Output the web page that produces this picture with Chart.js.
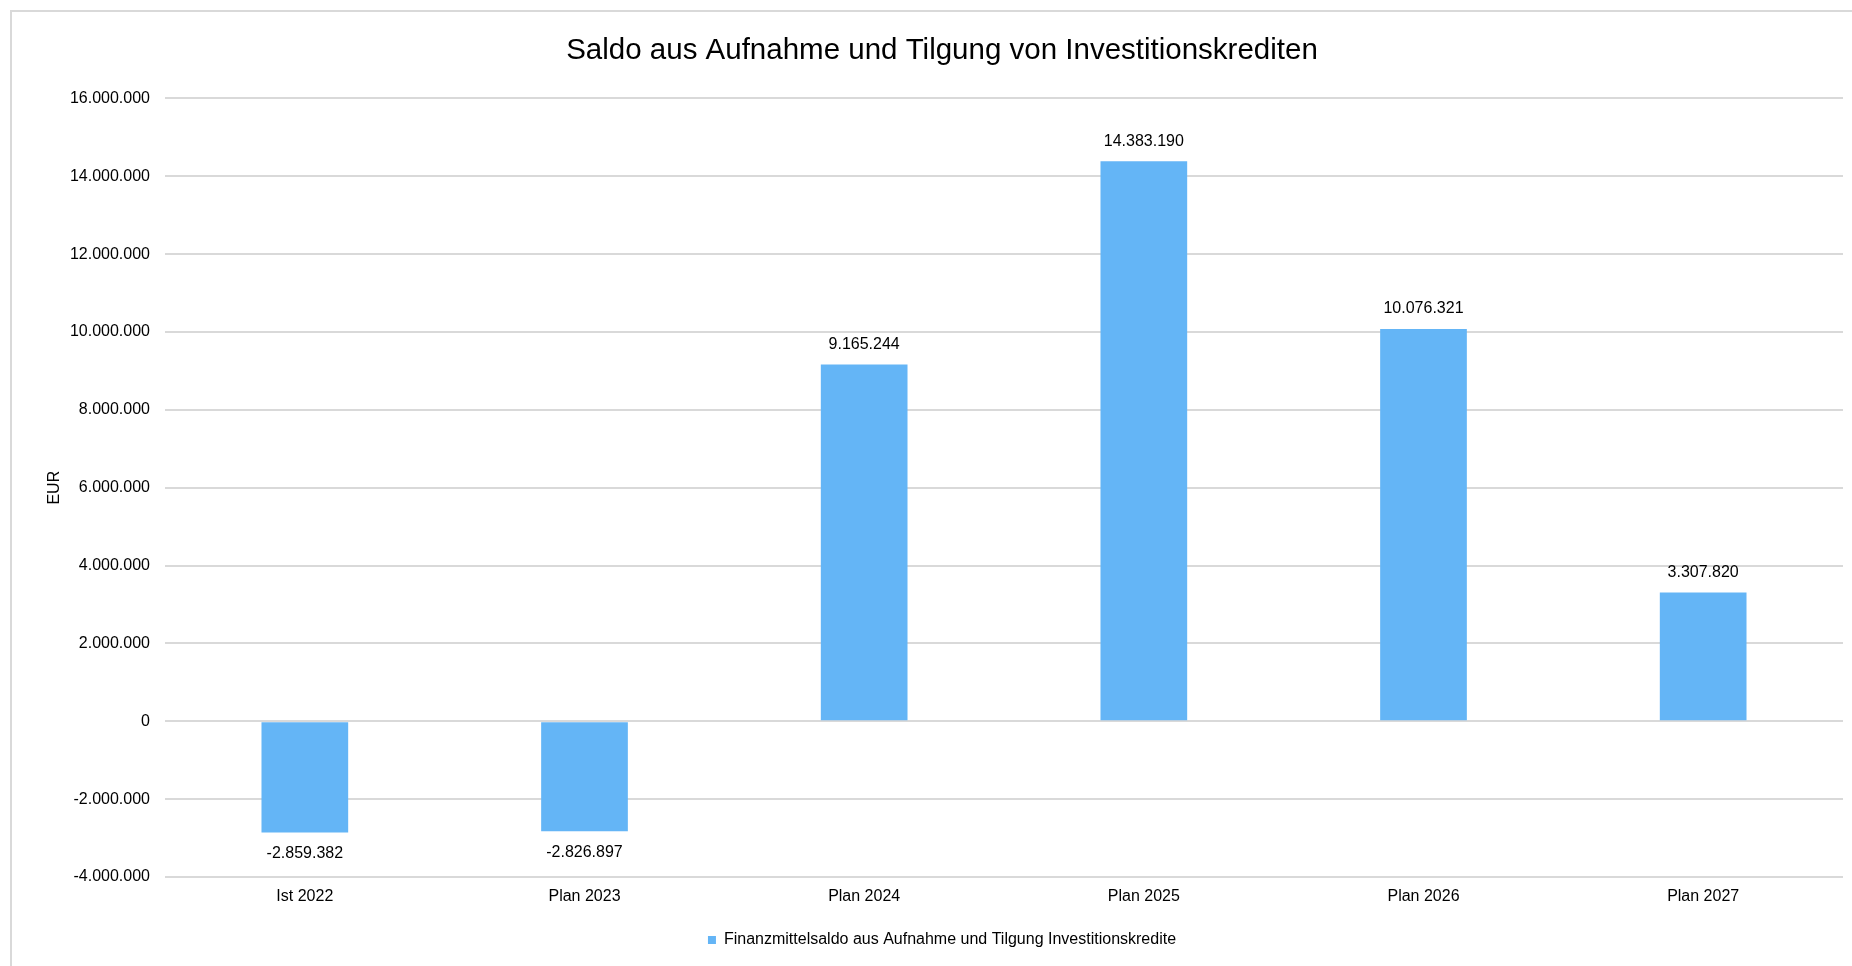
<!DOCTYPE html>
<html lang="de">
<head>
<meta charset="utf-8">
<title>Saldo aus Aufnahme und Tilgung von Investitionskrediten</title>
<script src="https://cdn.jsdelivr.net/npm/chart.js@4/dist/chart.umd.min.js"></script>
<style>
    html, body { margin: 0; padding: 0; background: #ffffff; overflow: hidden; }
    #wrap { position: relative; width: 1852px; height: 966px; overflow: hidden; }
    #frame {
        position: absolute; left: 10px; top: 10px;
        width: 2000px; height: 2000px;
        border: 2px solid #d9d9d9;
        box-sizing: border-box;
    }
    #chart { position: absolute; left: 0; top: 0; }
</style>
</head>
<body>
<div id="wrap">
    <div id="frame"></div>
    <canvas id="chart" width="1852" height="966"></canvas>
</div>
<script>
// Daten
const kategorien = ['Ist 2022', 'Plan 2023', 'Plan 2024', 'Plan 2025', 'Plan 2026', 'Plan 2027'];
const saldo = [-2859382, -2826897, 9165244, 14383190, 10076321, 3307820];
const serienName = 'Finanzmittelsaldo aus Aufnahme und Tilgung Investitionskredite';
const titel = 'Saldo aus Aufnahme und Tilgung von Investitionskrediten';
const yMin = -4000000;
const yMax = 16000000;
const yStep = 2000000;

const BAR_COLOR = '#64b5f6';
const GRID_COLOR = '#d9d9d9';
const TEXT_COLOR = '#000000';
const FONT = "'Liberation Sans', Arial, sans-serif";

// Zahlen mit Punkt als Tausendertrenner
function formatDE(n) {
    return Math.round(n).toString().replace(/\B(?=(\d{3})+(?!\d))/g, '.');
}

// Werte über/unter den Balken
const valueLabels = {
    id: 'valueLabels',
    afterDatasetsDraw(chart) {
        const ctx = chart.ctx;
        const meta = chart.getDatasetMeta(0);
        ctx.save();
        ctx.font = '16px ' + FONT;
        ctx.fillStyle = TEXT_COLOR;
        ctx.textAlign = 'center';
        ctx.textBaseline = 'middle';
        meta.data.forEach((bar, i) => {
            const v = chart.data.datasets[0].data[i];
            const y = v >= 0 ? bar.y - 20 : bar.y + 21;
            ctx.fillText(formatDE(v), bar.x, y);
        });
        ctx.restore();
    }
};

Chart.defaults.font.family = FONT;
Chart.defaults.font.size = 16;
Chart.defaults.color = TEXT_COLOR;

const ctx = document.getElementById('chart').getContext('2d');
const chart = new Chart(ctx, {
    type: 'bar',
    data: {
        labels: kategorien,
        datasets: [{
            label: serienName,
            data: saldo,
            backgroundColor: BAR_COLOR,
            borderWidth: 0,
            categoryPercentage: 1,
            barPercentage: 0.31
        }]
    },
    options: {
        responsive: false,
        animation: false,
        layout: { padding: { left: 41, right: 9, top: 0, bottom: 8 } },
        plugins: {
            title: {
                display: true,
                text: titel,
                color: TEXT_COLOR,
                font: { size: 29.5, weight: 'normal' },
                padding: { top: 33, bottom: 30 }
            },
            legend: {
                position: 'bottom',
                labels: {
                    boxWidth: 8,
                    boxHeight: 8,
                    padding: 10,
                    color: TEXT_COLOR,
                    font: { size: 16 }
                }
            },
            tooltip: { enabled: false }
        },
        scales: {
            y: {
                min: yMin,
                max: yMax,
                ticks: {
                    stepSize: yStep,
                    padding: 15,
                    color: TEXT_COLOR,
                    callback: (v) => formatDE(v)
                },
                grid: { color: GRID_COLOR, lineWidth: 2, drawTicks: false },
                border: { display: false },
                title: { display: true, text: 'EUR', color: TEXT_COLOR, font: { size: 16 } },
                afterFit(scale) { scale.width = 124; }
            },
            x: {
                ticks: { padding: 10, color: TEXT_COLOR },
                grid: { display: false, drawTicks: false },
                border: { display: false },
                afterFit(scale) { scale.height = 45; }
            }
        }
    },
    plugins: [valueLabels]
});
</script>
</body>
</html>
